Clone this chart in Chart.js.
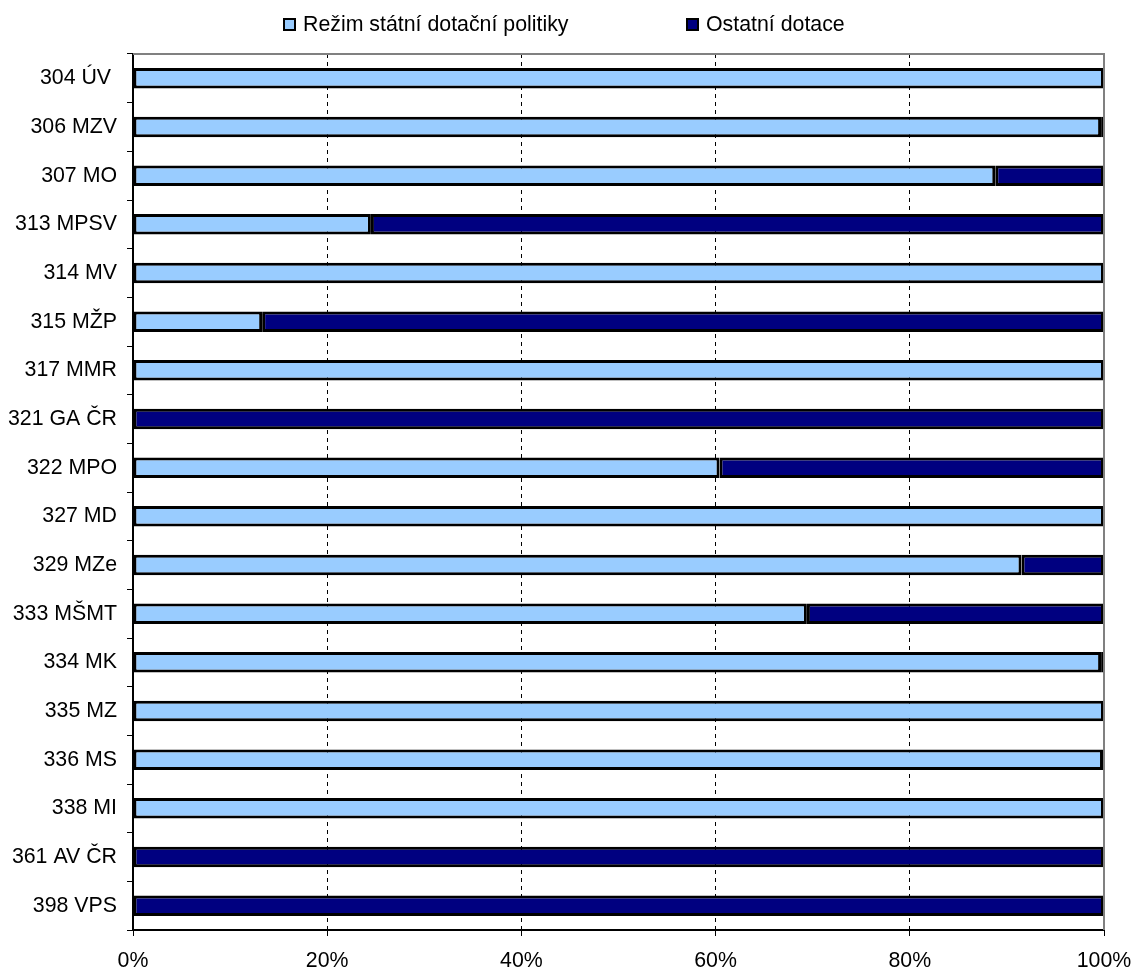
<!DOCTYPE html>
<html>
<head>
<meta charset="utf-8">
<script src="https://cdn.jsdelivr.net/npm/chart.js@4/dist/chart.umd.min.js"></script>
<style>
  body { margin: 0; background: #fff; }
  #wrap { position: relative; width: 1137px; height: 970px; }
  #chart { position: absolute; left: 0; top: 0; }
  .leg { position: absolute; top: 11px; font: 21.33px Arial, "Liberation Sans", sans-serif; color: #000; line-height: 26px; white-space: nowrap; }
  .leg i { position: absolute; left: -20px; top: 7px; width: 9px; height: 9px; border: 2px solid #000; }
</style>
</head>
<body>
<div id="wrap">
  <canvas id="chart" width="1137" height="970"></canvas>
  <div id="legend"></div>
</div>
<script>
const categories = ["304 ÚV ", "306 MZV", "307 MO", "313 MPSV", "314 MV", "315 MŽP", "317 MMR", "321 GA ČR", "322 MPO",
  "327 MD", "329 MZe", "333 MŠMT", "334 MK", "335 MZ", "336 MS", "338 MI", "361 AV ČR", "398 VPS"];
const statniDotace = [100, 99.7, 88.8, 24.5, 100, 13.3, 100, 0, 60.4, 100, 91.5, 69.4, 99.7, 100, 99.9, 100, 0, 0];
const ostatniDotace = [0, 0.3, 11.2, 75.5, 0, 86.7, 0, 100, 39.6, 0, 8.5, 30.6, 0.3, 0, 0.1, 0, 100, 100];
const xTicks = [0, 20, 40, 60, 80, 100];
const seriesNames = ["Režim státní dotační politiky", "Ostatní dotace"];
const seriesColors = ["#99ccff", "#000080"];

const font = { family: "Arial, 'Liberation Sans', sans-serif", size: 21.33 };

// legend as html (the two items sit far apart in the original)
const legendLeft = [303, 706];
document.getElementById("legend").innerHTML = seriesNames.map((n, i) =>
  `<div class="leg" style="left:${legendLeft[i]}px"><i style="background:${seriesColors[i]}"></i>${n}</div>`).join("");

// grey top/right frame of the plot area
const frame = {
  id: "frame",
  afterDraw(chart) {
    const a = chart.chartArea, c = chart.ctx;
    c.save();
    c.strokeStyle = "#808080";
    c.lineWidth = 2;
    c.beginPath();
    c.moveTo(a.left, a.top);
    c.lineTo(a.right, a.top);
    c.lineTo(a.right, a.bottom);
    c.stroke();
    c.restore();
  }
};

new Chart(document.getElementById("chart").getContext("2d"), {
  type: "bar",
  data: {
    labels: categories,
    datasets: [
      { label: seriesNames[0], data: statniDotace, backgroundColor: seriesColors[0],
        borderColor: "#000", borderWidth: 3, borderSkipped: false },
      { label: seriesNames[1], data: ostatniDotace, backgroundColor: seriesColors[1],
        borderColor: "#000", borderWidth: 3, borderSkipped: false }
    ]
  },
  options: {
    responsive: false,
    animation: false,
    indexAxis: "y",
    layout: { padding: { left: 0, right: 33, top: 54, bottom: 0 } },
    datasets: { bar: { barPercentage: 0.42, categoryPercentage: 1 } },
    plugins: {
      legend: { display: false },
      tooltip: { enabled: false }
    },
    scales: {
      x: {
        stacked: true,
        min: 0, max: 100,
        afterBuildTicks(scale) { scale.ticks = xTicks.map(v => ({ value: v })); },
        afterFit(scale) { scale.height = 40; scale.paddingLeft = 0; scale.paddingRight = 0; },
        ticks: { callback: v => v + "%", font: font, color: "#000", padding: 12, maxRotation: 0 },
        grid: {
          color: ctx => (ctx.tick && ctx.tick.value > 0 && ctx.tick.value < 100) ? "#000" : "rgba(0,0,0,0)",
          tickColor: "#000",
          tickLength: 6,
          lineWidth: 1
        },
        border: { color: "#000", width: 2, dash: [4, 4] }
      },
      y: {
        stacked: true,
        afterFit(scale) { scale.width = 133; },
        ticks: { font: font, color: "#000", padding: 10, autoSkip: false },
        grid: { drawOnChartArea: false, tickColor: "#000", tickLength: 6, offset: true },
        border: { color: "#000", width: 2 }
      }
    }
  },
  plugins: [frame]
});
</script>
</body>
</html>
